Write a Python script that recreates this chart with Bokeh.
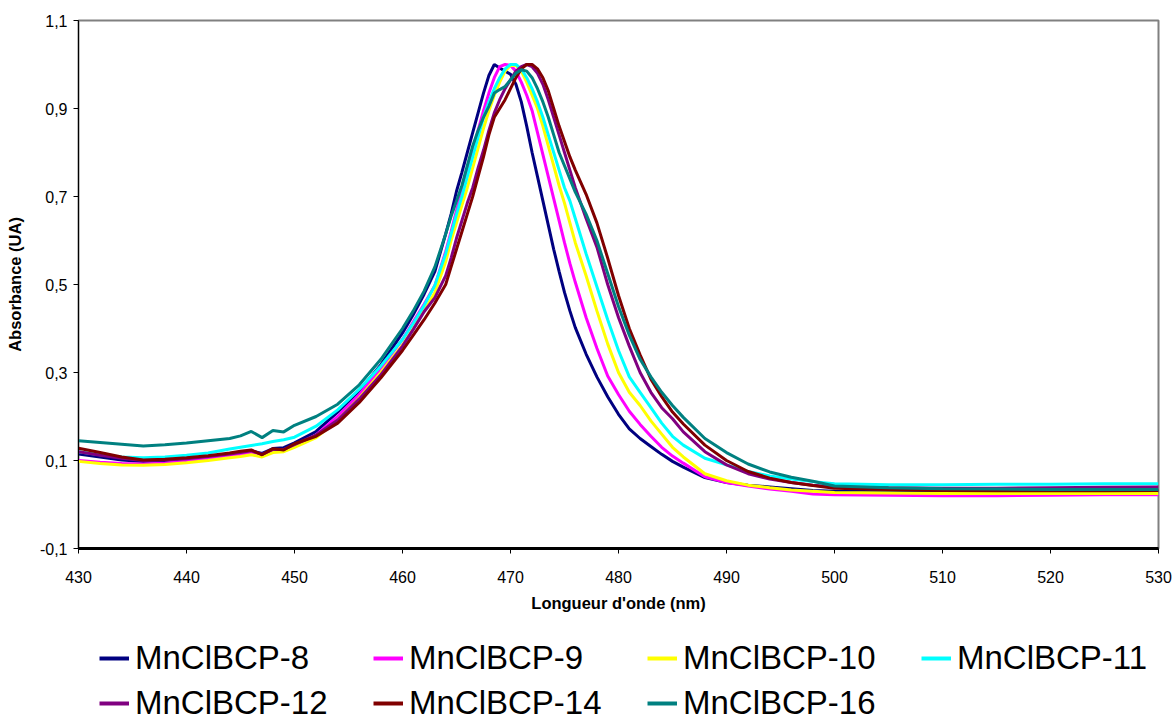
from bokeh.plotting import figure
from bokeh.layouts import column
from bokeh.models import Range1d, FixedTicker, CustomJSTickFormatter, Legend, LegendItem
from bokeh.embed import file_html
from bokeh.resources import INLINE

# wavelength grid (nm)
wavelength = [430, 432, 434, 436, 438, 440, 442, 444, 445, 446, 447, 448, 449, 450,
              452, 454, 456, 458, 460, 461, 462, 463,
              464, 464.5, 465, 465.5, 466, 466.5, 467, 467.5, 468, 468.5, 469, 469.5,
              470, 470.5, 471, 471.5, 472, 472.5, 473, 473.5, 474, 474.5, 475, 475.5, 476,
              477, 478, 479, 480, 481, 482, 483, 484, 485, 486,
              488, 490, 492, 494, 496, 498,
              500, 505, 510, 515, 520, 525, 530]

mnclbcp_8 = [.115, .108, .101, .098, .100, .104, .109, .114, .117, .122, .116, .127, .129, .140,
             .166, .210, .258, .318, .390, .432, .478, .530,
             .615, .660, .712, .755, .800, .845, .890, .935, .975, 1.000, .992, .985,
             .978, .955, .915, .860, .800, .745, .690, .635, .580, .530, .482, .440, .402,
             .342, .290, .245, .205, .172, .150, .132, .114, .098, .085,
             .061, .050, .044, .040, .036, .032,
             .030, .029, .028, .028, .029, .029, .030]

mnclbcp_9 = [.100, .096, .093, .092, .094, .099, .104, .110, .113, .118, .112, .122, .124, .134,
             .158, .200, .250, .310, .375, .415, .455, .498,
             .575, .620, .668, .712, .755, .805, .850, .895, .935, .970, .995, 1.000,
             .998, .985, .960, .930, .895, .845, .795, .745, .695, .645, .595, .548, .505,
             .425, .355, .292, .250, .212, .182, .155, .130, .110, .094,
             .063, .050, .042, .035, .030, .024,
             .022, .021, .020, .020, .021, .022, .022]

mnclbcp_10 = [.098, .093, .090, .089, .091, .095, .100, .106, .109, .113, .108, .118, .120, .130,
              .152, .192, .242, .300, .362, .400, .440, .482,
              .552, .600, .640, .680, .720, .765, .810, .855, .895, .930, .960, .985,
              .998, .998, .985, .960, .930, .900, .860, .815, .770, .725, .685, .640, .595,
              .520, .440, .365, .300, .255, .225, .190, .160, .130, .108,
              .070, .054, .044, .038, .033, .030,
              .027, .026, .025, .025, .025, .025, .025]

mnclbcp_11 = [.120, .113, .108, .106, .108, .112, .117, .126, .130, .134, .138, .143, .147, .153,
              .178, .215, .262, .315, .375, .412, .452, .498,
              .570, .615, .660, .700, .745, .790, .835, .880, .915, .945, .970, .990,
              1.000, 1.000, .990, .970, .945, .915, .880, .840, .800, .760, .720, .690, .650,
              .570, .495, .420, .350, .290, .255, .220, .185, .155, .135,
              .105, .090, .075, .065, .058, .052,
              .047, .045, .045, .046, .046, .047, .047]

mnclbcp_12 = [.120, .112, .105, .100, .101, .104, .109, .115, .118, .122, .114, .125, .125, .136,
              .158, .192, .240, .295, .360, .398, .438, .470,
              .520, .560, .605, .645, .685, .720, .765, .805, .850, .890, .920, .945,
              .965, .985, .995, 1.000, .995, .980, .955, .920, .880, .840, .800, .760, .720,
              .650, .585, .500, .425, .360, .300, .255, .220, .195, .165,
              .120, .090, .070, .058, .050, .044,
              .040, .038, .037, .037, .038, .039, .040]

mnclbcp_14 = [.128, .118, .108, .101, .103, .106, .111, .117, .121, .124, .113, .127, .124, .138,
              .155, .185, .232, .288, .350, .385, .420, .458,
              .500, .540, .580, .620, .660, .700, .745, .790, .840, .880, .900, .920,
              .945, .970, .990, 1.000, 1.000, .990, .970, .940, .900, .860, .825, .790, .760,
              .705, .640, .560, .475, .400, .340, .285, .245, .210, .183,
              .135, .100, .075, .060, .050, .043,
              .037, .034, .032, .031, .031, .031, .032]

mnclbcp_16 = [.145, .141, .137, .133, .136, .140, .145, .150, .156, .166, .152, .168, .165, .180,
              .200, .228, .272, .330, .400, .440, .485, .540,
              .615, .655, .690, .725, .770, .815, .850, .880, .905, .935, .943, .950,
              .965, .980, .988, .985, .970, .945, .915, .880, .840, .800, .770, .740, .710,
              .660, .600, .525, .450, .385, .330, .290, .255, .225, .198,
              .150, .118, .092, .074, .062, .053,
              .042, .038, .036, .035, .034, .034, .034]

series_names = ["MnClBCP-8", "MnClBCP-9", "MnClBCP-10", "MnClBCP-11",
                "MnClBCP-12", "MnClBCP-14", "MnClBCP-16"]
series_values = [mnclbcp_8, mnclbcp_9, mnclbcp_10, mnclbcp_11,
                 mnclbcp_12, mnclbcp_14, mnclbcp_16]
series_colors = ["#000080", "#FF00FF", "#FFFF00", "#00FFFF",
                 "#800080", "#800000", "#008080"]

x_ticks = [430, 440, 450, 460, 470, 480, 490, 500, 510, 520, 530]
y_ticks = [-0.1, 0.1, 0.3, 0.5, 0.7, 0.9, 1.1]

FONT = "Liberation Sans"

# ---------------- main chart ----------------
p = figure(width=1174, height=616, output_backend="svg", toolbar_location=None,
           x_range=Range1d(430, 530), y_range=Range1d(-0.1, 1.1),
           min_border_left=78, min_border_right=16, min_border_top=20,
           min_border_bottom=68)
p.xgrid.visible = False
p.ygrid.visible = False
p.outline_line_color = "#808080"
p.outline_line_width = 2
p.background_fill_color = "white"
p.border_fill_color = "white"

for name, ys, color in zip(series_names, series_values, series_colors):
    p.line(wavelength, ys, line_color=color, line_width=3)

p.xaxis.ticker = FixedTicker(ticks=x_ticks)
p.yaxis.ticker = FixedTicker(ticks=y_ticks)
p.yaxis.formatter = CustomJSTickFormatter(code="return tick.toFixed(1).replace('.', ',');")
for ax in (p.xaxis[0], p.yaxis[0]):
    ax.major_label_text_font = FONT
    ax.major_label_text_font_size = "16px"
    ax.major_label_text_color = "black"
    ax.axis_label_text_font = FONT
    ax.axis_label_text_font_size = "16.5px"
    ax.axis_label_text_font_style = "bold"
    ax.axis_label_text_color = "black"
    ax.major_tick_out = 5
    ax.major_tick_in = 0
    ax.minor_tick_out = 0
    ax.minor_tick_in = 0
    ax.major_tick_line_color = "black"
    ax.axis_line_color = "black"

p.xaxis.axis_label = "Longueur d'onde (nm)"
p.yaxis.axis_label = "Absorbance (UA)"
p.xaxis.axis_line_width = 3
p.yaxis.axis_line_width = 1
p.xaxis.major_label_standoff = 17
p.xaxis.axis_label_standoff = 8
p.yaxis.major_label_standoff = 6
p.yaxis.axis_label_standoff = 13

# ---------------- legend strip ----------------
lg = figure(width=1174, height=104, output_backend="svg", toolbar_location=None,
            x_range=Range1d(0, 1), y_range=Range1d(0, 1),
            x_axis_location=None, y_axis_location=None,
            min_border=0, min_border_left=0, min_border_right=0,
            min_border_top=0, min_border_bottom=0)
lg.xgrid.visible = False
lg.ygrid.visible = False
lg.outline_line_color = None
lg.background_fill_color = "white"
lg.border_fill_color = "white"

items = []
for name, ys, color in zip(series_names, series_values, series_colors):
    r = lg.line(wavelength, ys, line_color=color, line_width=4)
    items.append(LegendItem(label=name, renderers=[r]))

legend = Legend(items=items, location=(21, -3), orientation="horizontal", ncols=4,
                glyph_width=30, glyph_height=40, label_height=40, label_width=233,
                label_standoff=6, spacing=5, padding=0, margin=0,
                border_line_color=None, background_fill_alpha=0,
                label_text_font=FONT, label_text_font_size="33px",
                label_text_color="black")
lg.add_layout(legend, "center")

layout = column(p, lg, spacing=0)
open("out.html", "w").write(file_html(layout, INLINE))
